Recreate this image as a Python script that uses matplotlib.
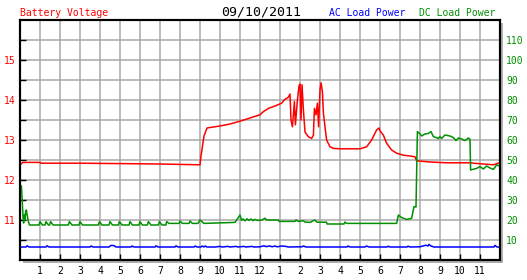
import matplotlib
matplotlib.use('Agg')
import matplotlib.pyplot as plt
from matplotlib.patches import Rectangle

plt.rcParams['font.family'] = 'DejaVu Sans Mono'

# battery voltage (left axis, volts)
volt_hours = [0.0, 0.1, 0.15, 1.0, 1.05, 3.0, 5.0, 7.0, 8.0, 9.0, 9.05, 9.2, 9.35, 9.6,
              10.0, 10.5, 11.0, 11.5, 12.0, 12.17, 12.42, 12.75, 13.08, 13.25, 13.42, 13.5,
              13.55, 13.62, 13.67, 13.72, 13.77, 13.87, 13.95, 14.0, 14.05, 14.1, 14.17,
              14.25, 14.42, 14.58, 14.67, 14.72, 14.8, 14.87, 14.93, 15.0, 15.05, 15.12,
              15.17, 15.25, 15.33, 15.5, 15.67, 16.0, 17.0, 17.33, 17.58, 17.83, 17.95,
              18.0, 18.17, 18.33, 18.58, 18.83, 19.17, 19.5, 19.75, 19.83, 20.5, 21.33,
              22.5, 22.67, 23.17, 23.67, 23.9, 24.0]
volt_values = [12.38, 12.42, 12.44, 12.44, 12.42, 12.42, 12.41, 12.40, 12.39, 12.38, 12.6, 13.1,
               13.3, 13.32, 13.35, 13.4, 13.47, 13.55, 13.63, 13.71, 13.79, 13.85, 13.92,
               14.02, 14.07, 14.15, 13.5, 13.33, 13.63, 13.96, 13.38, 14.0, 14.35, 14.4, 13.5,
               14.38, 13.75, 13.2, 13.08, 13.04, 13.12, 13.79, 13.63, 13.92, 13.33, 14.25,
               14.43, 14.21, 13.67, 13.33, 13.0, 12.83, 12.79, 12.78, 12.78, 12.83, 13.0,
               13.25, 13.3, 13.23, 13.12, 12.92, 12.75, 12.67, 12.62, 12.6, 12.58, 12.48,
               12.45, 12.43, 12.43, 12.42, 12.4, 12.38, 12.42, 12.42]

# DC load power (right axis)
dc_hours = [0.0, 0.07, 0.1, 0.15, 0.18, 0.22, 0.25, 0.28, 0.32, 0.37, 0.42, 0.47,
            0.95, 1.0, 1.12, 1.25, 1.3, 1.42, 1.48, 1.53, 1.65, 2.42, 2.47, 2.6,
            2.95, 3.0, 3.12, 3.92, 3.97, 4.1, 4.45, 4.5, 4.62, 4.92, 4.97, 5.1,
            5.45, 5.5, 5.62, 5.95, 6.0, 6.12, 6.37, 6.42, 6.55, 6.92, 6.97, 7.1,
            7.3, 7.33, 7.45, 7.95, 8.0, 8.12, 8.45, 8.5, 8.62, 8.9, 9.0, 9.2,
            10.75, 11.0, 11.08, 11.15, 11.25, 11.35, 11.45, 11.55, 11.65, 11.75, 11.9,
            12.1, 12.25, 12.33, 12.92, 12.95, 13.75, 13.8, 13.9, 14.17, 14.25, 14.5,
            14.75, 14.85, 15.33, 15.35, 16.2, 16.25, 16.33, 18.83, 18.92, 19.08, 19.33,
            19.58, 19.7, 19.8, 19.87, 19.97, 20.08, 20.25, 20.42, 20.55, 20.67, 20.92,
            21.0, 21.08, 21.25, 21.5, 21.67, 21.8, 21.92, 22.08, 22.25, 22.42, 22.5,
            22.53, 22.83, 23.0, 23.17, 23.33, 23.5, 23.67, 23.83, 24.0]
dc_values = [37.5, 37.0, 31.7, 21.7, 18.5, 22.5, 20.0, 24.2, 25.0, 21.7, 19.2, 17.5,
             17.5, 19.2, 17.5, 17.5, 19.2, 17.5, 17.5, 19.2, 17.5, 17.5, 19.2, 17.5,
             17.5, 19.2, 17.5, 17.5, 19.2, 17.5, 17.5, 19.2, 17.5, 17.5, 19.2, 17.5,
             17.5, 19.2, 17.5, 17.5, 19.2, 17.5, 17.5, 19.2, 17.5, 17.5, 19.2, 17.5,
             17.5, 19.2, 18.3, 18.3, 19.5, 18.3, 18.3, 19.5, 18.3, 18.3, 20.0, 18.3,
             18.8, 22.5, 19.8, 20.5, 19.6, 20.6, 19.8, 20.5, 19.7, 20.3, 19.8,
             20.0, 20.9, 20.0, 20.0, 19.3, 19.3, 20.0, 19.3, 19.6, 19.0, 18.8,
             20.0, 18.9, 18.9, 18.0, 18.0, 19.0, 18.3, 18.3, 22.5, 21.2, 20.3,
             20.8, 26.7, 26.5, 64.2, 63.3, 62.0, 63.0, 63.3, 64.2, 61.7, 60.8,
             61.7, 60.8, 62.5, 62.0, 61.2, 59.7, 61.0, 60.5, 59.7, 61.0, 60.3,
             45.0, 45.8, 46.7, 45.5, 47.0, 46.0, 45.3, 47.5, 47.0]

# AC load power (right axis)
ac_hours = [0.0, 0.3, 0.35, 0.45, 1.3, 1.35, 1.45, 3.5, 3.55, 3.65, 4.45, 4.55, 4.7, 4.8,
            5.55, 5.6, 5.7, 6.75, 6.8, 6.9, 7.75, 7.8, 7.9, 8.7, 8.75, 8.85, 9.05, 9.1,
            9.2, 9.25, 9.35, 9.75, 10.0, 10.1, 10.4, 10.5, 10.8, 10.9, 11.2, 11.3, 11.6,
            11.7, 12.0, 12.2, 12.3, 12.5, 12.6, 12.75, 12.85, 13.1, 13.3, 13.4, 14.1,
            14.17, 14.3, 16.35, 16.4, 16.5, 17.25, 17.33, 17.45, 18.35, 18.4, 18.5,
            19.35, 19.4, 19.5, 20.0, 20.3, 20.4, 20.45, 20.55, 20.7, 23.7, 23.75,
            23.85, 24.0]
ac_values = [6.5, 6.5, 7.1, 6.5, 6.5, 7.1, 6.5, 6.5, 7.0, 6.5, 6.5, 7.3, 7.2, 6.5,
             6.5, 7.0, 6.5, 6.5, 7.1, 6.5, 6.5, 7.1, 6.5, 6.5, 7.0, 6.5, 6.5, 7.0,
             6.5, 7.0, 6.5, 6.5, 6.8, 6.5, 6.8, 6.5, 6.8, 6.5, 6.8, 6.5, 6.8,
             6.5, 6.6, 7.1, 6.7, 7.0, 6.6, 7.0, 6.6, 7.0, 6.8, 6.5, 6.6,
             7.0, 6.5, 6.5, 7.0, 6.5, 6.5, 7.0, 6.5, 6.5, 6.9, 6.5,
             6.5, 6.9, 6.5, 6.6, 7.4, 7.0, 7.8, 7.0, 6.5, 6.5, 7.3,
             6.5, 6.5]

hour_ticks = list(range(1, 24))
hour_labels = [str(h) for h in range(1, 13)] + [str(h) for h in range(1, 12)]
volt_ticks = [11, 12, 13, 14, 15]
power_ticks = [10, 20, 30, 40, 50, 60, 70, 80, 90, 100, 110]

RED = '#ff0000'
GREEN = '#009000'
BLUE = '#0000ff'
GRID = '#a8a8a8'

fig = plt.figure(figsize=(5.27, 2.8), dpi=100)
W, H = 527, 280
ax = fig.add_axes([20 / W, 20 / H, 480 / W, 240 / H])

# grey drop shadow behind plot frame
shadow = Rectangle((23 / W, 17 / H), 480 / W, 240 / H, transform=fig.transFigure,
                   facecolor='#b0b0b0', edgecolor='none', zorder=-1)
fig.add_artist(shadow)

ax.set_xlim(0, 24)
ax.set_ylim(10, 16)
ax.set_xticks(hour_ticks)
ax.set_xticklabels(hour_labels)
ax.set_yticks(volt_ticks)
ax.set_yticks([v + 0.5 for v in range(10, 16)], minor=True)
ax.grid(which='both', color=GRID, lw=1.1)
ax.set_axisbelow(True)
ax.tick_params(axis='x', direction='in', length=4, width=1, pad=4.5, labelsize=7,
               colors='black')
ax.tick_params(axis='y', which='both', direction='in', length=4, width=1, pad=3.5,
               labelsize=7, labelcolor=RED, color='black')
ax.plot(volt_hours, volt_values, color=RED, lw=1.1)

ax2 = ax.twinx()
ax2.set_ylim(0, 120)
ax2.set_yticks(power_ticks)
ax2.tick_params(axis='y', length=0, pad=4.5, labelsize=7, labelcolor=GREEN)
ax2.plot(ac_hours, ac_values, color=BLUE, lw=1.1)
ax2.plot(dc_hours, dc_values, color=GREEN, lw=1.1)

for a in (ax, ax2):
    for s in a.spines.values():
        s.set_color('black')
        s.set_linewidth(1.5)

fig.text(20 / W, 1 - 16 / H, 'Battery Voltage', color=RED, size=7, va='baseline', ha='left')
fig.text(261 / W, 1 - 15.7 / H, '09/10/2011', color='black', size=9.5, va='baseline',
         ha='center')
fig.text(329 / W, 1 - 16 / H, 'AC Load Power', color=BLUE, size=7, va='baseline', ha='left')
fig.text(495 / W, 1 - 16 / H, 'DC Load Power', color=GREEN, size=7, va='baseline',
         ha='right')

fig.savefig('out.png', dpi=100)
